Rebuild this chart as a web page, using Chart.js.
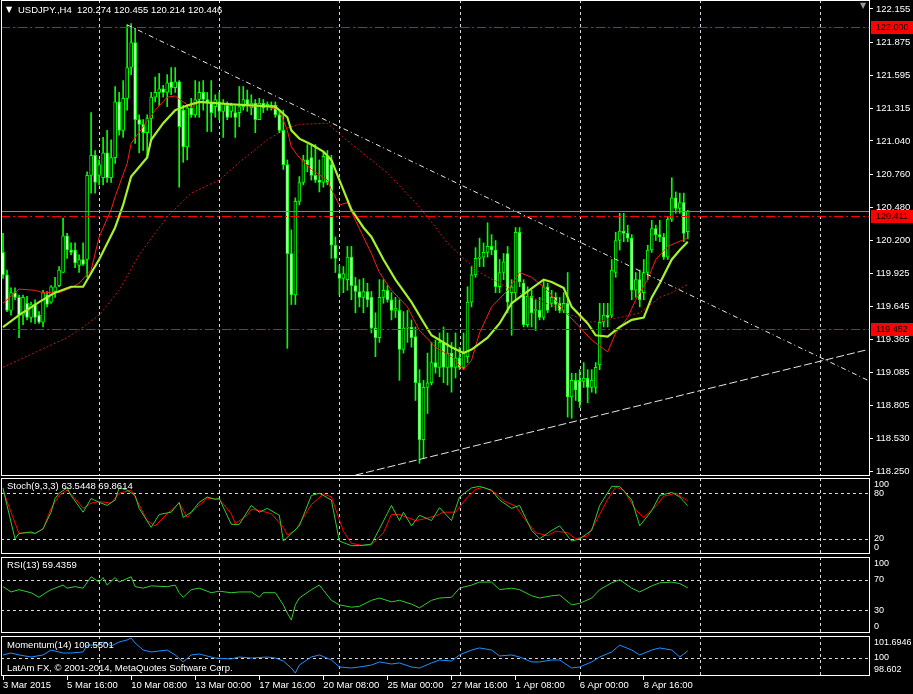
<!DOCTYPE html>
<html>
<head>
<meta charset="utf-8">
<script src="https://cdn.jsdelivr.net/npm/chart.js@4.4.1/dist/chart.umd.min.js"></script>
<style>
  body { margin: 0; background: #000; width: 913px; height: 694px; overflow: hidden; position: relative; }
  canvas { position: absolute; left: 0; }
</style>
</head>
<body>
<canvas id="mainChart" width="913" height="478" style="top:0"></canvas>
<canvas id="stochChart" width="913" height="78" style="top:477px"></canvas>
<canvas id="rsiChart" width="913" height="78" style="top:556px"></canvas>
<canvas id="momChart" width="913" height="59" style="top:635px"></canvas>
<script>
// H4 bars, 3 Mar 2015 00:00 onward; chart keeps empty slots to the right
const slotCount = 217;
const labelBars = [0, 16, 32, 48, 64, 80, 96, 112, 128, 144, 160];
const tickLabels = ['3 Mar 2015', '5 Mar 16:00', '10 Mar 08:00', '13 Mar 00:00', '17 Mar 16:00', '20 Mar 08:00',
  '25 Mar 00:00', '27 Mar 16:00', '1 Apr 08:00', '6 Apr 00:00', '8 Apr 16:00'];
const gridBars = [24, 54, 84, 114, 144, 174, 204];
const priceTicks = [122.155, 121.875, 121.595, 121.315, 121.040, 120.760, 120.480, 120.200, 119.925,
  119.645, 119.365, 119.085, 118.805, 118.530, 118.250];

const opens = [120.10,119.91,119.61,119.76,119.72,119.57,119.67,119.55,119.66,119.57,
  119.51,119.74,119.68,119.77,119.82,119.93,120.24,120.12,120.12,119.99,
  120.04,120.04,120.75,120.92,120.75,120.73,120.94,120.73,120.90,121.37,
  121.13,121.40,121.66,121.87,121.22,121.18,121.11,121.23,121.41,121.45,
  121.48,121.45,121.54,121.49,121.54,121.30,120.99,121.32,121.26,121.39,
  121.45,121.39,121.37,121.33,121.37,121.29,121.34,121.29,121.28,121.28,
  121.33,121.39,121.32,121.36,121.22,121.36,121.33,121.34,121.34,121.26,
  121.13,120.84,120.09,119.74,120.53,120.69,120.88,120.90,120.75,120.71,
  120.69,120.91,120.84,120.16,119.92,119.88,119.87,120.06,119.82,119.77,
  119.72,119.77,119.72,119.46,119.38,119.72,119.78,119.70,119.61,119.61,
  119.28,119.46,119.47,119.39,119.00,118.52,118.96,119.00,119.17,119.13,
  119.34,119.13,119.25,119.13,119.21,119.13,119.22,119.68,119.91,120.05,
  120.06,120.10,120.15,120.12,119.81,119.93,120.09,119.76,119.76,120.27,
  119.84,119.49,119.73,119.61,119.61,119.55,119.81,119.67,119.72,119.67,
  119.61,119.67,118.88,119.02,119.02,119.01,119.04,118.96,118.96,119.15,
  119.51,119.57,119.57,119.93,120.20,120.28,120.26,120.22,119.78,119.87,
  119.76,119.93,120.12,120.30,120.25,120.23,120.06,120.38,120.56,120.47,
  120.52,120.274];
const highs = [120.26,119.95,119.80,119.80,119.74,119.74,119.73,119.68,119.70,119.60,
  119.78,119.77,119.82,119.89,119.98,120.39,120.26,120.18,120.18,120.08,
  120.18,120.78,121.28,120.96,120.88,121.07,121.13,121.05,121.50,121.45,
  121.55,122.02,122.03,121.99,121.26,121.22,121.26,121.45,121.58,121.61,
  121.51,121.60,121.66,121.66,121.55,121.34,121.34,121.40,121.55,121.54,
  121.55,121.45,121.55,121.43,121.45,121.39,121.37,121.36,121.34,121.50,
  121.50,121.47,121.43,121.39,121.40,121.39,121.37,121.37,121.37,121.30,
  121.30,120.88,120.29,120.56,120.74,120.92,121.01,121.01,121.01,120.88,
  120.95,120.96,120.92,120.23,119.99,119.98,120.15,120.15,119.89,119.87,
  119.88,119.84,119.77,119.59,119.87,119.87,119.82,119.76,119.72,119.70,
  119.60,119.61,119.53,119.47,119.11,119.02,119.25,119.34,119.36,119.42,
  119.47,119.42,119.34,119.42,119.30,119.42,119.81,119.98,120.14,120.22,
  120.18,120.35,120.25,120.20,120.04,120.09,120.15,119.87,120.31,120.31,
  119.87,119.81,119.78,119.70,119.72,119.87,119.84,119.78,119.76,119.72,
  119.76,119.93,119.08,119.08,119.11,119.17,119.11,119.11,119.17,119.67,
  119.67,119.67,120.04,120.27,120.43,120.43,120.33,120.25,119.93,119.95,
  120.04,120.16,120.37,120.33,120.37,120.26,120.40,120.73,120.61,120.60,
  120.60,120.455];
const lows = [119.88,119.60,119.57,119.70,119.38,119.49,119.53,119.51,119.50,119.50,
  119.47,119.64,119.67,119.72,119.81,119.93,120.05,120.08,119.97,119.93,
  119.99,119.89,120.60,120.60,120.67,120.67,120.69,120.69,120.85,121.09,
  121.07,121.30,121.60,121.02,120.94,120.96,120.90,121.05,121.37,121.34,
  121.41,121.33,121.43,121.45,120.65,120.86,120.88,121.24,121.24,121.24,
  121.30,121.12,121.12,121.24,121.22,121.07,121.22,121.24,121.07,121.16,
  121.30,121.29,121.26,121.11,121.22,121.28,121.30,121.30,121.24,121.11,
  120.80,119.29,119.66,119.66,120.50,120.67,120.78,120.71,120.69,120.61,
  120.65,120.67,120.05,119.93,119.74,119.76,119.78,119.70,119.59,119.64,
  119.59,119.64,119.42,119.22,119.34,119.67,119.68,119.53,119.55,119.02,
  119.25,119.34,119.30,118.85,118.32,118.36,118.74,118.98,119.08,119.05,
  119.00,118.98,118.92,119.04,119.11,119.11,119.17,119.64,119.89,119.98,
  119.98,120.06,120.08,119.76,119.76,119.87,119.59,119.40,119.70,119.81,
  119.47,119.47,119.47,119.44,119.53,119.53,119.59,119.64,119.61,119.59,
  119.59,118.71,118.70,118.85,118.79,118.96,118.83,118.92,118.91,119.11,
  119.47,119.47,119.55,119.89,120.12,120.19,120.19,119.70,119.72,119.64,
  119.70,119.87,120.10,120.20,120.19,120.04,120.04,120.36,120.43,120.43,
  120.19,120.214];
const closes = [119.91,119.61,119.76,119.72,119.57,119.72,119.55,119.66,119.55,119.51,
  119.76,119.66,119.81,119.81,119.95,120.24,120.12,120.10,120.01,120.04,
  120.00,120.75,120.92,120.69,120.84,120.94,120.73,120.90,121.37,121.13,
  121.40,121.66,121.87,121.22,121.18,121.11,121.23,121.41,121.45,121.48,
  121.45,121.53,121.49,121.54,121.16,120.99,121.32,121.26,121.39,121.45,
  121.39,121.37,121.28,121.39,121.29,121.36,121.24,121.34,121.24,121.33,
  121.39,121.34,121.36,121.22,121.36,121.32,121.35,121.32,121.26,121.13,
  120.84,120.09,119.74,120.53,120.69,120.88,120.84,120.75,120.71,120.69,
  120.91,120.69,120.16,120.05,119.88,119.92,120.06,119.82,119.77,119.72,
  119.77,119.70,119.46,119.38,119.72,119.78,119.70,119.61,119.63,119.28,
  119.46,119.47,119.38,119.00,118.52,118.96,119.00,119.17,119.13,119.34,
  119.13,119.25,119.13,119.21,119.13,119.25,119.68,119.91,120.05,120.06,
  120.10,120.15,120.12,119.81,119.93,120.02,119.68,119.81,120.27,119.85,
  119.49,119.73,119.59,119.62,119.55,119.81,119.61,119.72,119.66,119.61,
  119.67,118.88,119.02,118.94,118.84,119.04,118.96,119.02,119.13,119.51,
  119.57,119.55,119.95,120.20,120.28,120.26,120.22,119.78,119.87,119.70,
  119.93,120.12,120.30,120.25,120.23,120.06,120.38,120.56,120.47,120.52,
  120.26,120.446];

// moving averages at the listed bars
const fastMaBars = [0,4,9,13,17,20,24,28,30,32,34,36,37,40,43,46,49,53,57,62,68,71,72,74,77,80,82,84,87,90,
  92,95,98,102,105,107,112,115,117,121,124,127,131,135,137,140,142,146,148,151,154,157,160,162,164,167,169,171];
const fastMa = [119.47,119.57,119.68,119.76,119.81,119.81,120.04,120.31,120.50,120.74,120.82,120.90,121.05,121.19,
  121.30,121.34,121.37,121.36,121.35,121.34,121.33,121.24,121.13,121.06,121.01,120.95,120.88,120.71,120.46,120.31,
  120.23,120.04,119.87,119.68,119.51,119.40,119.30,119.25,119.28,119.38,119.50,119.67,119.77,119.87,119.85,119.80,
  119.64,119.50,119.40,119.39,119.47,119.53,119.55,119.72,119.84,120.04,120.12,120.19];
const redMaBars = [0,4,8,10,14,17,19,22,24,27,28,31,32,35,38,41,43,45,47,49,53,59,66,69,71,72,74,77,81,82,
  84,86,88,92,94,97,101,104,108,112,115,117,119,122,126,129,132,136,140,144,147,151,153,156,158,161,163,166,168,171];
const redMa = [119.67,119.79,119.78,119.76,119.76,119.80,119.84,119.95,120.23,120.46,120.57,120.85,121.02,121.16,
  121.30,121.41,121.42,121.37,121.32,121.37,121.36,121.34,121.33,121.30,121.13,120.99,120.90,120.80,120.71,120.63,
  120.50,120.52,120.37,120.09,119.93,119.78,119.64,119.44,119.30,119.22,119.11,119.19,119.42,119.64,119.78,119.93,
  119.89,119.78,119.61,119.47,119.36,119.26,119.42,119.55,119.70,119.87,120.04,120.15,120.18,120.22];
const longMaBars = [0,16,20,24,29,34,41,47,54,59,66,71,74,81,85,89,96,103,106,111,114,119,124,127,132,138,142,147,
  154,159,164,167,171];
const longMa = [119.13,119.38,119.47,119.57,119.78,120.08,120.40,120.60,120.71,120.86,121.05,121.15,121.18,121.19,
  121.07,120.96,120.77,120.52,120.40,120.18,120.08,119.93,119.84,119.78,119.72,119.64,119.57,119.51,119.55,119.59,
  119.72,119.76,119.83];

// trendlines and horizontal lines
const upperTrendBars = [31, 216];
const upperTrend = [122.02, 119.02];
const lowerTrendBars = [88, 216];
const lowerTrend = [118.22, 119.28];
const levelLines = [122.000, 120.411, 119.452];
const bidPrice = 120.446;

// Stoch(9,3,3)
const stochKBars = [0,1,3,4,7,8,10,12,13,14,16,17,20,22,24,26,28,29,31,33,34,37,39,42,44,45,47,49,51,53,
  54,57,59,62,64,66,69,70,72,74,77,79,82,84,87,89,92,94,97,99,100,102,104,107,109,112,114,117,119,122,
  124,127,129,132,134,137,139,142,144,147,149,152,154,157,159,162,164,167,169,171];
const stochK = [87,64,20,27,29,27,33,55,73,80,87,77,55,73,68,64,71,87,84,77,60,35,52,55,68,48,55,68,75,72,
  73,39,39,64,55,60,51,17,27,37,77,80,71,17,11,11,13,33,64,44,55,37,51,44,61,44,75,87,89,84,
  71,60,64,31,20,31,37,17,20,31,64,89,89,71,37,57,77,81,75,63.5448];
const stochDBars = [0,2,4,6,8,10,12,14,16,18,20,22,24,27,29,32,33,36,38,41,44,46,48,51,54,57,58,61,62,65,
  67,70,71,73,77,80,82,85,87,90,92,95,97,99,101,103,105,108,110,113,116,118,120,123,125,128,130,133,136,138,
  141,143,146,148,151,153,155,158,160,163,165,168,171];
const stochD = [84,55,27,28,27,33,60,77,84,73,60,67,69,67,80,84,75,44,37,53,67,48,60,73,72,53,40,51,59,56,
  53,35,25,31,65,79,75,30,14,11,12,28,52,52,48,44,46,50,55,55,75,85,88,80,70,63,48,28,24,30,
  28,20,24,42,72,88,84,58,48,63,76,80,69.8614];

// RSI(13)
const rsiBars = [0,2,4,7,9,11,12,15,16,18,20,22,24,25,26,28,29,32,33,35,37,41,43,44,45,47,49,52,54,57,
  59,62,64,65,68,70,71,72,73,74,77,79,82,84,87,89,92,94,97,99,102,104,107,109,112,114,117,119,122,124,
  127,129,132,134,137,139,142,144,147,149,152,154,157,159,162,164,167,169,171];
const rsi = [61,54,57,53,47,54,57,63,59,61,59,74,67,73,63,73,67,74,61,59,62,61,63,53,47,57,59,53,55,53,
  54,54,47,53,53,37,26,17,37,46,57,63,43,37,34,35,43,46,41,43,38,33,43,46,47,59,63,67,67,57,
  59,57,49,46,49,50,37,39,46,57,66,70,59,54,62,66,67,65,59.4359];

// Momentum(14)
const momBars = [0,2,4,7,10,12,15,17,20,21,24,25,27,29,31,32,33,35,37,41,43,45,47,49,53,57,59,62,66,68,
  70,72,73,74,77,79,82,84,87,89,92,94,97,99,102,104,107,109,112,114,117,119,122,124,127,129,132,134,137,139,
  142,144,147,149,152,154,157,159,162,164,167,169,171];
const mom = [100.23,100.38,100.23,100.07,100.23,100.61,100.38,100.38,100.46,100.99,100.99,101.23,100.92,101.23,
  101.39,101.54,101.15,100.61,100.46,100.61,100.23,99.69,100.23,100.30,99.99,99.92,100.07,99.99,100.07,99.99,
  99.76,99.22,98.83,99.45,100.07,100.23,99.84,99.30,99.22,99.30,99.45,99.69,99.53,99.61,99.30,99.22,99.61,
  99.84,99.76,100.23,100.61,100.77,100.61,100.15,100.23,100.07,99.69,99.69,99.84,99.84,99.22,99.30,99.69,
  100.07,100.46,100.99,100.61,100.23,100.61,100.77,100.61,100.07,100.5501];

const FONT = '9.5px "Liberation Sans", Arial, sans-serif';
const AXIS_FONT = '9px "Liberation Sans", Arial, sans-serif';
const slots = Array.from({ length: slotCount }, (_, i) => i);
const pts = (bars, vals) => bars.map((b, i) => ({ x: b, y: vals[i] }));

function hline(ctx, x1, y1, x2, y2) {
  ctx.beginPath(); ctx.moveTo(x1, y1); ctx.lineTo(x2, y2); ctx.stroke();
}

const panelDeco = {
  id: 'panelDeco',
  beforeDatasetsDraw(chart, args, o) {
    const { ctx, chartArea: a, scales } = chart;
    ctx.save();
    ctx.strokeStyle = '#d8d8d8';
    ctx.lineWidth = 1;
    ctx.setLineDash([3, 3]);
    gridBars.forEach(b => {
      const x = Math.round(scales.x.getPixelForValue(b)) + 0.5;
      hline(ctx, x, a.top, x, a.bottom);
    });
    (o.levels || []).forEach(v => {
      const y = Math.round(scales.y.getPixelForValue(v)) + 0.5;
      hline(ctx, a.left, y, a.right, y);
    });
    ctx.restore();
  },
  afterDatasetsDraw(chart, args, o) {
    if (!o.priceLines) return;
    const { ctx, chartArea: a, scales } = chart;
    ctx.save();
    ctx.lineWidth = 1;
    let y = Math.round(scales.y.getPixelForValue(bidPrice)) + 0.5;
    ctx.strokeStyle = '#778899';
    hline(ctx, a.left, y, a.right, y);
    ctx.strokeStyle = '#ff0000';
    ctx.setLineDash([9, 3, 2, 3]);
    levelLines.forEach(v => {
      y = Math.round(scales.y.getPixelForValue(v)) + 0.5;
      hline(ctx, a.left, y, a.right, y);
    });
    ctx.restore();
  },
  afterDraw(chart, args, o) {
    const { ctx, chartArea: a, scales } = chart;
    ctx.save();
    ctx.strokeStyle = '#ffffff';
    ctx.lineWidth = 1;
    ctx.strokeRect(a.left + 0.5, a.top + 0.5, a.right - a.left - 1, a.bottom - a.top - 1);
    ctx.font = FONT;
    ctx.textBaseline = 'middle';
    ctx.fillStyle = '#ffffff';
    (o.texts || []).forEach((t, i) => {
      const y = o.textFromBottom && o.textFromBottom[i] ? a.bottom - o.textY[i] : a.top + o.textY[i];
      ctx.fillText(t, a.left + o.textX[i], y);
    });
    if (o.axisValues) {
      ctx.font = AXIS_FONT;
      o.axisValues.forEach((v, i) => {
        let y = scales.y.getPixelForValue(v);
        y = Math.min(Math.max(y, a.top + 7), a.bottom - 6);
        ctx.fillText(o.axisTexts[i], a.right + 4, y);
      });
    }
    if (o.priceLines) {
      ctx.font = AXIS_FONT;
      levelLines.forEach(v => {
        const y = Math.round(scales.y.getPixelForValue(v));
        ctx.fillStyle = '#ff0000';
        ctx.fillRect(a.right + 1, y - 6, 42, 13);
        ctx.fillStyle = '#000000';
        ctx.fillText(v.toFixed(3), a.right + 6, y + 0.5);
      });
      ctx.font = '8px "DejaVu Sans"';
      ctx.fillStyle = '#ffffff';
      ctx.fillText('\u25BC', a.left + 5, 10);
      ctx.fillStyle = '#9a9a9a';
      ctx.fillText('\u25BC', a.right - 10, 6);
    }
    ctx.restore();
  }
};

function yAxis(min, max, extra) {
  return Object.assign({
    position: 'right', min: min, max: max,
    afterFit: s => { s.width = 43; s.paddingTop = 0; s.paddingBottom = 0; },
    ticks: { display: false },
    grid: { display: false },
    border: { display: false }
  }, extra || {});
}

function baseOptions(padTop, padBottom, y, deco, x) {
  return {
    responsive: false,
    animation: false,
    layout: { padding: { left: 1, right: 0, top: padTop, bottom: padBottom } },
    plugins: { legend: { display: false }, tooltip: { enabled: false }, panelDeco: deco },
    scales: { x: x || { display: false, offset: true }, y: y }
  };
}

function lineSet(data, color, width, dash) {
  return { type: 'line', data: data, borderColor: color, borderWidth: width, borderDash: dash || [],
    pointRadius: 0, tension: 0, fill: false };
}

// main price panel
new Chart(document.getElementById('mainChart'), {
  type: 'bar',
  data: {
    labels: slots,
    datasets: [
      Object.assign(lineSet(pts(upperTrendBars, upperTrend), '#e6e6e6', 1, [5, 3, 1, 3]), { order: 0 }),
      Object.assign(lineSet(pts(lowerTrendBars, lowerTrend), '#e6e6e6', 1, [8, 3]), { order: 0 }),
      Object.assign(lineSet(pts(fastMaBars, fastMa), '#a6f02c', 2.2), { order: 1 }),
      Object.assign(lineSet(pts(redMaBars, redMa), '#ff1a1a', 1), { order: 2 }),
      Object.assign(lineSet(pts(longMaBars, longMa), '#c01818', 1, [2, 2]), { order: 3 }),
      {
        data: opens.map((o, i) => [o, closes[i]]),
        backgroundColor: closes.map((c, i) => (c < opens[i] ? '#ffffff' : '#000000')),
        borderColor: '#00ff00', borderWidth: 1, borderSkipped: false,
        barThickness: 3, grouped: false, order: 4
      },
      {
        data: lows.map((l, i) => [l, highs[i]]),
        backgroundColor: '#00ff00', borderWidth: 0,
        barThickness: 1, grouped: false, order: 5
      }
    ]
  },
  options: baseOptions(0, 2, yAxis(118.2126, 122.23, {
    afterBuildTicks: s => { s.ticks = priceTicks.map(v => ({ value: v })); },
    ticks: { display: true, color: '#ffffff', font: { family: '"Liberation Sans", Arial', size: 9.5 }, padding: 3,
      autoSkip: false, callback: v => Number(v).toFixed(3) },
    grid: { display: true, drawOnChartArea: false, tickLength: 3, tickColor: '#ffffff' }
  }), {
    priceLines: true,
    texts: ['USDJPY.,H4  120.274 120.455 120.214 120.446'],
    textX: [17], textY: [10.5]
  }),
  plugins: [panelDeco]
});

// stochastic panel
new Chart(document.getElementById('stochChart'), {
  type: 'line',
  data: {
    labels: slots,
    datasets: [
      lineSet(pts(stochKBars, stochK), '#32cd32', 1),
      lineSet(pts(stochDBars, stochD), '#ff0000', 1)
    ]
  },
  options: baseOptions(1, 1, yAxis(0, 100), {
    levels: [80, 20],
    axisValues: [100, 80, 20, 0], axisTexts: ['100', '80', '20', '0'],
    texts: ['Stoch(9,3,3) 63.5448 69.8614'], textX: [6], textY: [8.5]
  }),
  plugins: [panelDeco]
});

// RSI panel
new Chart(document.getElementById('rsiChart'), {
  type: 'line',
  data: { labels: slots, datasets: [lineSet(pts(rsiBars, rsi), '#32cd32', 1)] },
  options: baseOptions(1, 1, yAxis(0, 100), {
    levels: [70, 30],
    axisValues: [100, 70, 30, 0], axisTexts: ['100', '70', '30', '0'],
    texts: ['RSI(13) 59.4359'], textX: [6], textY: [8.5]
  }),
  plugins: [panelDeco]
});

// momentum panel with the time axis
new Chart(document.getElementById('momChart'), {
  type: 'line',
  data: { labels: slots, datasets: [lineSet(pts(momBars, mom), '#1e90ff', 1)] },
  options: baseOptions(1, 0, yAxis(98.602, 101.6946), {
    levels: [100],
    axisValues: [101.6946, 100, 98.602], axisTexts: ['101.6946', '100', '98.602'],
    texts: ['Momentum(14) 100.5501', 'LatAm FX, \u00A9 2001-2014, MetaQuotes Software Corp.'],
    textX: [6, 6], textY: [9, 8], textFromBottom: [false, true]
  }, {
    offset: true,
    afterBuildTicks: s => { s.ticks = labelBars.map(v => ({ value: v })); },
    afterFit: s => { s.height = 18; s.paddingLeft = 0; s.paddingRight = 0; },
    ticks: { autoSkip: false, maxRotation: 0, minRotation: 0, align: 'start', padding: 0, color: '#ffffff',
      font: { family: '"Liberation Sans", Arial', size: 9.5 },
      callback: v => tickLabels[labelBars.indexOf(v)] },
    grid: { display: true, offset: false, drawOnChartArea: false, tickLength: 4, tickColor: '#ffffff' },
    border: { display: false }
  }),
  plugins: [panelDeco]
});
</script>
</body>
</html>
